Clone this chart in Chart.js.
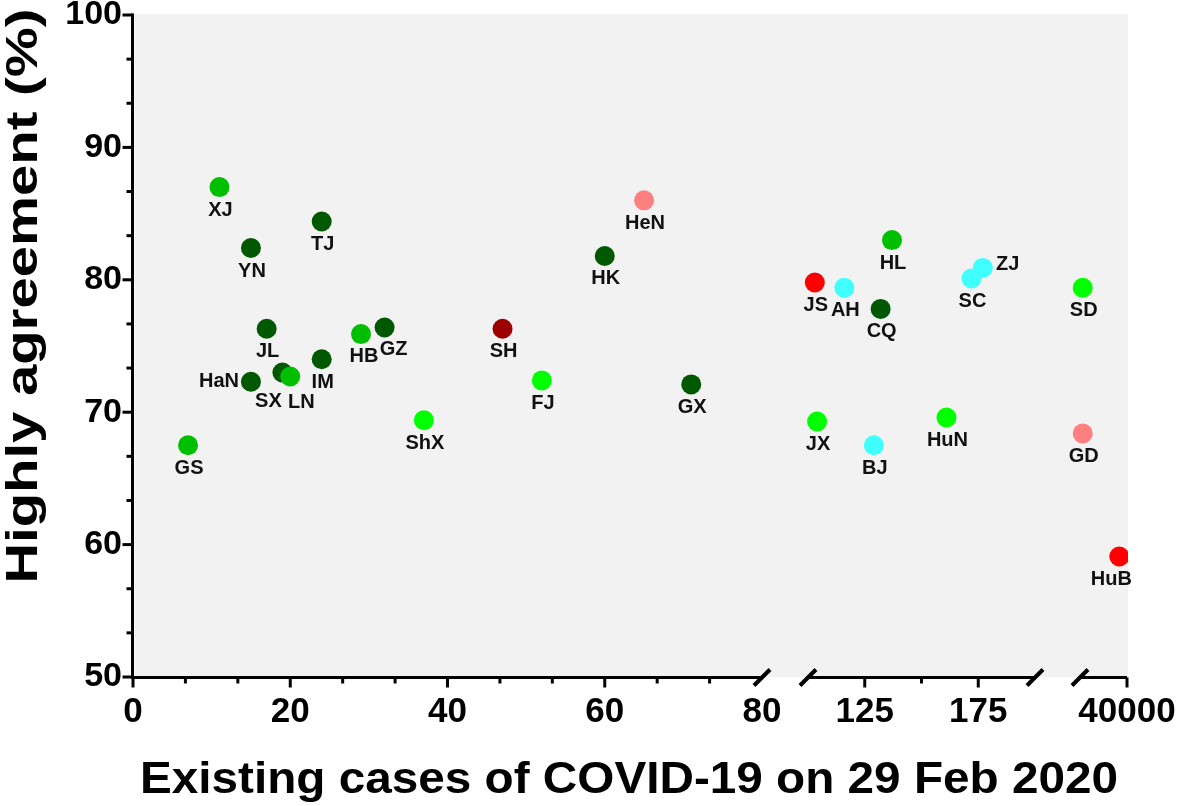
<!DOCTYPE html>
<html>
<head>
<meta charset="utf-8">
<script src="https://cdn.jsdelivr.net/npm/chart.js@4/dist/chart.umd.min.js"></script>
<style>
html,body{margin:0;padding:0;background:#fff;}
#wrap{width:1181px;height:806px;position:relative;}
</style>
</head>
<body>
<div id="wrap"><canvas id="c" width="1181" height="806"></canvas></div>
<script>
// ---------------- data ----------------
const provinces = ['YN','TJ','JL','GZ','IM','SX','HaN','HK','GX','CQ',
                   'XJ','GS','HB','LN','HL',
                   'ShX','FJ','JX','HuN','SD',
                   'HeN','GD','SH','JS','HuB',
                   'AH','BJ','SC','ZJ'];
const existingCases = [15,24,17,32,24,19,15,60,71,132,
                       11,7,29,20,137,
                       37,52,104,161,2600,
                       65,2600,47,103,33500,
                       116,129,172,177];
const highAgreement = [82.4,84.4,76.3,76.4,74.0,73.0,72.3,81.8,72.1,77.8,
                       87.0,67.5,75.9,72.7,83.0,
                       69.4,72.4,69.3,69.6,79.4,
                       86.0,68.4,76.3,79.8,59.1,
                       79.4,67.5,80.1,80.9];
const colorGroup = ['dark','dark','dark','dark','dark','dark','dark','dark','dark','dark',
                    'mid','mid','mid','mid','mid',
                    'bright','bright','bright','bright','bright',
                    'pink','pink','darkred','red','red',
                    'cyan','cyan','cyan','cyan'];
const xTickValues = [0,20,40,60,80,125,175,40000];
const xTickLabels = ['0','20','40','60','80','125','175','40000'];
const xMinorTicks = [20/3,40/3,80/3,100/3,140/3,160/3,200/3,220/3,150];
const yTickValues = [50,60,70,80,90,100];

// ---------------- styles / layout ----------------
const palette = {dark:'#005800', mid:'#00bf00', bright:'#00ff00', pink:'#ff8080',
                 darkred:'#9e0000', red:'#ff0000', cyan:'#40ffff'};
// broken x axis: data range of each segment and where it sits on the axis (axis units)
const xSegments = [
  {min:0,   max:80,    from:0,   to:629},
  {min:100, max:200,   from:675, to:902},
  {min:300, max:40000, from:947, to:994}
];
const AXIS_MAX = 995;
const labelOffsets = {HaN:[-32,0], GZ:[9,22], SX:[-14,29], LN:[11,26], ZJ:[25,-3], HuB:[-8,23], HB:[3,22]};
const defaultOffset = [1,23];
const FONT = '"Liberation Sans", Arial, Helvetica, sans-serif';

function toAxis(v){
  for (const s of xSegments){
    if (v >= s.min && v <= s.max) return s.from + (v - s.min) / (s.max - s.min) * (s.to - s.from);
  }
  return null;
}

const points = provinces.map((p,i)=>({x: toAxis(existingCases[i]), y: highAgreement[i], name: p}));

function line(ctx,x1,y1,x2,y2){ctx.beginPath();ctx.moveTo(x1,y1);ctx.lineTo(x2,y2);ctx.stroke();}

const brokenAxes = {
  id:'brokenAxes',
  beforeDraw(chart){
    const {ctx, chartArea:a} = chart;
    ctx.save();
    ctx.fillStyle = '#f2f2f2';
    ctx.fillRect(a.left+2, a.top-1, a.right-a.left-2, a.bottom-a.top+1);
    ctx.restore();
  },
  beforeDatasetsDraw(chart){
    const {ctx} = chart;
    const xs = chart.scales.x, ys = chart.scales.y;
    const yBase = ys.getPixelForValue(50) + 0.5;
    const xLeft = xs.getPixelForValue(0) - 0.5;
    ctx.save();
    ctx.strokeStyle = '#000';
    ctx.lineWidth = 3;
    ctx.lineCap = 'butt';
    // y axis
    line(ctx, xLeft, ys.getPixelForValue(100)-1.5, xLeft, yBase+1.5);
    yTickValues.forEach(v=>{ const p = ys.getPixelForValue(v); line(ctx, xLeft-10, p, xLeft, p); });
    for (let k=0;k<yTickValues.length-1;k++){
      const a = yTickValues[k], b = yTickValues[k+1];
      [a+(b-a)/3, a+2*(b-a)/3].forEach(v=>{ const p = ys.getPixelForValue(v); line(ctx, xLeft-6, p, xLeft, p); });
    }
    // x axis segments
    xSegments.forEach(s=>{
      line(ctx, xs.getPixelForValue(s.from)-(s.min===0?1.5:0), yBase, xs.getPixelForValue(s.to), yBase);
    });
    // major ticks (not at breaks)
    const breakVals = new Set([80,100,200,300]);
    xTickValues.forEach(v=>{
      if (breakVals.has(v)) return;
      const p = xs.getPixelForValue(toAxis(v));
      line(ctx, p, yBase, p, yBase+10);
    });
    xMinorTicks.forEach(v=>{
      const p = xs.getPixelForValue(toAxis(v));
      line(ctx, p, yBase, p, yBase+6);
    });
    // break marks
    ctx.lineWidth = 4;
    const breaks = [xSegments[0].to, xSegments[1].from, xSegments[1].to, xSegments[2].from];
    breaks.forEach(b=>{
      const p = xs.getPixelForValue(b);
      line(ctx, p-8, yBase+8, p+8, yBase-8);
    });
    ctx.restore();
  },
  afterDatasetsDraw(chart){
    const {ctx} = chart;
    const meta = chart.getDatasetMeta(0);
    ctx.save();
    ctx.font = 'bold 20px ' + FONT;
    ctx.fillStyle = '#111';
    ctx.textAlign = 'center';
    ctx.textBaseline = 'middle';
    meta.data.forEach((el,i)=>{
      const name = provinces[i];
      const off = labelOffsets[name] || defaultOffset;
      ctx.fillText(name, el.x + off[0], el.y + off[1]);
    });
    ctx.restore();
  },
  afterDraw(chart){
    const {ctx} = chart;
    ctx.save();
    ctx.fillStyle = '#000';
    ctx.textAlign = 'center';
    ctx.textBaseline = 'alphabetic';
    // y title
    ctx.font = 'bold 44px ' + FONT;
    let t = 'Highly agreement (%)';
    let w = ctx.measureText(t).width;
    ctx.save();
    ctx.translate(37, 296);
    ctx.rotate(-Math.PI/2);
    ctx.scale(575/w, 1);
    ctx.fillText(t, 0, 0);
    ctx.restore();
    // x title
    ctx.font = 'bold 45px ' + FONT;
    t = 'Existing cases of COVID-19 on 29 Feb 2020';
    w = ctx.measureText(t).width;
    ctx.save();
    ctx.translate(629, 793);
    ctx.scale(978/w, 1);
    ctx.fillText(t, 0, 0);
    ctx.restore();
    ctx.restore();
  }
};

new Chart(document.getElementById('c'), {
  type:'scatter',
  data:{
    datasets:[{
      data: points,
      backgroundColor: colorGroup.map(g=>palette[g]),
      borderWidth: 0,
      pointRadius: 10,
      pointHoverRadius: 10
    }]
  },
  options:{
    responsive:false,
    animation:false,
    devicePixelRatio:1,
    layout:{padding:{left:0,right:53,top:15,bottom:0}},
    plugins:{legend:{display:false}, tooltip:{enabled:false}},
    scales:{
      x:{
        type:'linear', min:0, max:AXIS_MAX,
        grid:{display:false, drawTicks:false},
        border:{display:false},
        afterBuildTicks(s){ s.ticks = xTickValues.map(v=>({value: toAxis(v)})); },
        afterFit(s){ s.height = 129; s.paddingLeft = 0; s.paddingRight = 0; },
        ticks:{
          autoSkip:false, maxRotation:0, minRotation:0, padding:14,
          color:'#000',
          font:{family:FONT, size:35, weight:'bold'},
          callback:(v,i)=>xTickLabels[i]
        }
      },
      y:{
        type:'linear', min:50, max:100,
        grid:{display:false, drawTicks:false},
        border:{display:false},
        afterBuildTicks(s){ s.ticks = yTickValues.map(v=>({value:v})); },
        afterFit(s){ s.width = 133; s.paddingTop = 0; s.paddingBottom = 0; },
        ticks:{
          padding:11, color:'#000',
          font:{family:FONT, size:34, weight:'bold'},
          callback:v=>String(v)
        }
      }
    }
  },
  plugins:[brokenAxes]
});
</script>
</body>
</html>
